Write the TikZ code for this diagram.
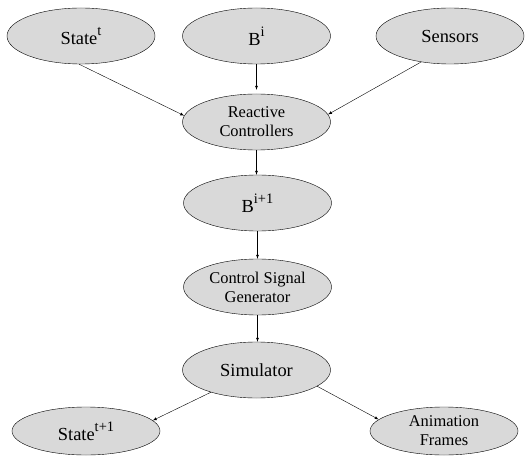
\documentclass[tikz,border=0pt]{standalone}
\usepackage{fontspec}
\setmainfont{Liberation Serif}
\usetikzlibrary{shapes.geometric}

\newcommand{\bigtxt}{\fontsize{18.5}{20}\selectfont}
\newcommand{\smalltxt}{\fontsize{16.5}{19}\selectfont}
\newcommand{\upidx}[1]{\raisebox{0.5em}{\fontsize{14.5}{15}\selectfont #1}}

\begin{document}
\begin{tikzpicture}[x=1bp, y=-1bp, >=latex]
        \tikzstyle{block}=[ellipse,draw,fill=gray!30,minimum width=148bp,minimum height=56bp,inner sep=0pt,font=\bigtxt]
        \tikzstyle{flat}=[block,minimum height=48bp]
        \tikzstyle{twoline}=[align=center,font=\smalltxt]
        \useasboundingbox (0,0) rectangle (528,456);

        \node[block] (S_t) at (81,36)  {State\upidx{t}};
        \node[block] (B_i) at (256.5,36)  {B\upidx{i}};
        \node[block] (Sens) at (450,36)  {Sensors};
        \node[block,twoline] (RC) at (256.5,122)  {Reactive\\Controllers};
        \node[block] (B_n) at (257.5,203)  {B\upidx{i+1}};
        \node[block,twoline] (CSG) at (257.5,287)  {Control Signal\\Generator};
        \node[block] (Sim) at (256.5,370)  {Simulator};
        \node[flat] (S_n) at (86,431)  {State\upidx{t+1}};
        \node[flat,twoline] (AF) at (444,431)  {Animation\\Frames};

        \draw[->] (S_t.266) -- (RC.175);
        \draw[->,shorten >=4bp] (B_i) -- (RC);
        \draw[->] (Sens.222) -- (RC.6);
        \draw[->] (RC.south) -- (RC.south |- B_n.north);
        \draw[->] (B_n) -- (CSG);
        \draw[->] (CSG.south) -- (CSG.south |- Sim.north);
        \draw[->] (Sim.206) -- (S_n.9);
        \draw[->] (Sim.345) -- (AF.170);
    \end{tikzpicture}
\end{document}
